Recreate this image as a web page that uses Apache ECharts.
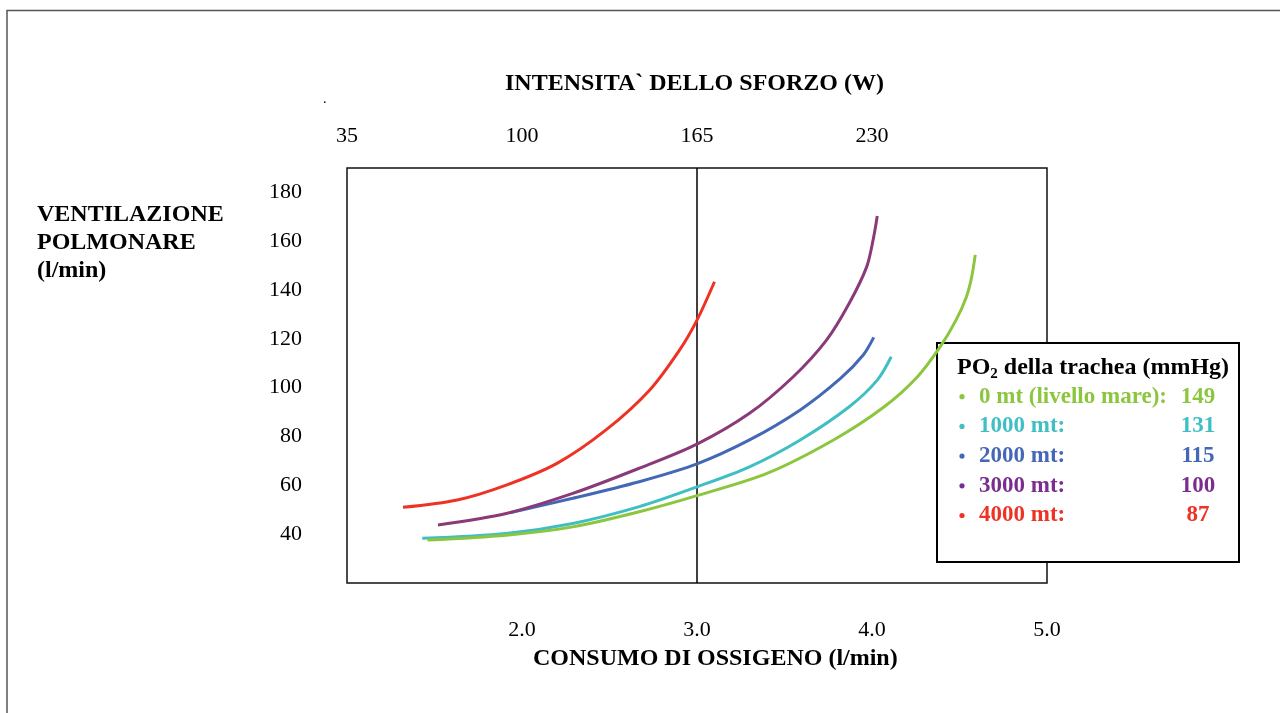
<!DOCTYPE html>
<html>
<head>
<meta charset="utf-8">
<style>
  html, body { margin: 0; padding: 0; background: #fff; }
  #chart { width: 1280px; height: 713px; }
</style>
<script src="https://cdn.jsdelivr.net/npm/echarts@6.0.0/dist/echarts.min.js"></script>
</head>
<body>
<div id="chart"></div>
<script>
// ---- data ----
const seriesNames  = ['0 mt (livello mare):', '1000 mt:', '2000 mt:', '3000 mt:', '4000 mt:'];
const seriesPO2    = ['149', '131', '115', '100', '87'];
const lineColors   = ['#8cc63f', '#3fbfc4', '#4467b6', '#8a3a78', '#ee3224'];
const legendColors = ['#8cc63f', '#3fbfc4', '#4467b6', '#7a2d8f', '#ee3224'];

// oxygen uptake (l/min) and ventilation (l/min) for each altitude
const x0m    = [1.46, 1.91, 2.29, 2.67, 3.00, 3.40, 3.78, 4.07, 4.26, 4.39, 4.48, 4.54, 4.57, 4.59];
const y0m    = [37.6, 39.6, 43.0, 49.2, 55.8, 64.9, 78.6, 92.2, 104.5, 116.8, 127.7, 137.3, 145.5, 154.4];
const x1000m = [1.43, 1.91, 2.29, 2.67, 3.00, 3.30, 3.59, 3.87, 4.03, 4.11];
const y1000m = [38.3, 40.3, 44.4, 51.3, 59.4, 67.6, 78.6, 92.2, 103.1, 112.7];
const x2000m = [1.93, 2.29, 2.67, 3.00, 3.30, 3.59, 3.82, 3.95, 4.01];
const y2000m = [48.8, 54.7, 61.5, 68.8, 78.6, 90.9, 103.8, 113.4, 120.6];
const x3000m = [1.52, 1.91, 2.29, 2.67, 3.00, 3.30, 3.55, 3.74, 3.87, 3.97, 4.01, 4.03];
const y3000m = [43.8, 48.5, 56.7, 67.0, 76.9, 89.5, 104.5, 119.5, 134.6, 149.6, 161.9, 170.3];
const x4000m = [1.32, 1.63, 1.91, 2.20, 2.48, 2.73, 2.90, 3.00, 3.10];
const y4000m = [51.0, 54.0, 60.1, 69.0, 82.7, 99.1, 115.4, 127.7, 143.4];

// axis ticks
const xTickValues = [2, 3, 4, 5];
const xTickLabels = ['2.0', '3.0', '4.0', '5.0'];
const wTickValues = [1, 2, 3, 4];
const wTickLabels = ['35', '100', '165', '230'];
const yTickValues = [40, 60, 80, 100, 120, 140, 160, 180];
const refLineX = 3.0;

// ---- texts ----
const titleTop = 'INTENSITA` DELLO SFORZO (W)';
const titleBottom = 'CONSUMO DI OSSIGENO (l/min)';
const titleLeft = 'VENTILAZIONE\nPOLMONARE\n(l/min)';
const legendTitle = '{a|PO}{s|2}{a| della trachea (mmHg)}';

const FONT = '"Liberation Serif", "Times New Roman", serif';

const xs = [x0m, x1000m, x2000m, x3000m, x4000m];
const ys = [y0m, y1000m, y2000m, y3000m, y4000m];

function pairs(a, b) { return a.map((v, i) => [v, b[i]]); }
function labelFor(values, labels) {
  return function (v) {
    const i = values.findIndex(t => Math.abs(t - v) < 1e-9);
    return i >= 0 ? labels[i] : '';
  };
}

// drawing order: cyan, green, blue, purple, red
const drawOrder = [1, 0, 2, 3, 4];
const series = drawOrder.map((k, j) => {
  const s = {
    name: seriesNames[k],
    type: 'line',
    smooth: 0.3,
    showSymbol: false,
    symbol: 'none',
    data: pairs(xs[k], ys[k]),
    color: lineColors[k],
    lineStyle: { color: lineColors[k], width: 3 },
    z: 3 + j
  };
  if (j === 0) {
    s.markLine = {
      silent: true,
      symbol: ['none', 'none'],
      label: { show: false },
      lineStyle: { color: '#000', type: 'solid', width: 1.5 },
      data: [{ xAxis: refLineX }],
      z: 1
    };
  }
  return s;
});

const chart = echarts.init(document.getElementById('chart'), null, { renderer: 'canvas' });

const txt = (size, weight) => ({ fontFamily: FONT, fontSize: size, fontWeight: weight, fill: '#000' });
const tickFont = { color: '#000', fontSize: 22, fontFamily: FONT, fontWeight: 'normal' };

// ---- legend box (drawn as graphic, bold coloured text) ----
const LEG = { x: 937, y: 343, w: 302, h: 219, dotX: 962, nameX: 979, valX: 1198, row0: 396.7, rowH: 29.7 };
const legendChildren = [
  {
    type: 'rect', silent: true,
    shape: { x: LEG.x, y: LEG.y, width: LEG.w, height: LEG.h },
    style: { fill: '#fff', stroke: '#000', lineWidth: 2 }
  },
  {
    type: 'text', silent: true, x: 957, y: 368,
    style: {
      text: legendTitle, fill: '#000', verticalAlign: 'middle',
      rich: {
        a: { fontFamily: FONT, fontSize: 24, fontWeight: 'bold', fill: '#000', lineHeight: 28 },
        s: { fontFamily: FONT, fontSize: 15, fontWeight: 'bold', fill: '#000', lineHeight: 15, verticalAlign: 'bottom' }
      }
    }
  }
];
seriesNames.forEach((n, i) => {
  const y = LEG.row0 + i * LEG.rowH;
  legendChildren.push(
    { type: 'circle', silent: true, shape: { cx: LEG.dotX, cy: y, r: 2.6 }, style: { fill: legendColors[i] } },
    { type: 'text', silent: true, x: LEG.nameX, y: y,
      style: Object.assign({ text: n, verticalAlign: 'middle', align: 'left' }, txt(23, 'bold'), { fill: legendColors[i] }) },
    { type: 'text', silent: true, x: LEG.valX, y: y,
      style: Object.assign({ text: seriesPO2[i], verticalAlign: 'middle', align: 'center' }, txt(23, 'bold'), { fill: legendColors[i] }) }
  );
});

chart.setOption({
  animation: false,
  backgroundColor: '#fff',
  textStyle: { fontFamily: FONT },
  grid: {
    left: 347, top: 168, width: 700, height: 415,
    show: true, borderColor: '#111', borderWidth: 1.5, backgroundColor: 'transparent'
  },
  xAxis: [
    {
      type: 'value', position: 'bottom', min: 1, max: 5, interval: 1,
      axisLine: { show: false }, axisTick: { show: false }, splitLine: { show: false },
      axisLabel: Object.assign({ margin: 36, formatter: labelFor(xTickValues, xTickLabels) }, tickFont)
    },
    {
      type: 'value', position: 'top', min: 1, max: 5, interval: 1,
      axisLine: { show: false }, axisTick: { show: false }, splitLine: { show: false },
      axisLabel: Object.assign({ margin: 21, formatter: labelFor(wTickValues, wTickLabels) }, tickFont)
    }
  ],
  yAxis: {
    type: 'value', min: 20, max: 190, interval: 20,
    axisLine: { show: false }, axisTick: { show: false }, splitLine: { show: false },
    axisLabel: Object.assign({ margin: 45, formatter: labelFor(yTickValues, yTickValues.map(String)) }, tickFont)
  },
  graphic: [
    {
      type: 'polyline', silent: true, z: 0,
      shape: { points: [[7, 713], [7, 10.5], [1280, 10.5]] },
      style: { stroke: '#555', lineWidth: 1.5, fill: null }
    },
    {
      type: 'text', silent: true, left: 505, top: 72,
      style: Object.assign({ text: titleTop }, txt(24, 'bold'))
    },
    {
      type: 'text', silent: true, left: 533, top: 647,
      style: Object.assign({ text: titleBottom }, txt(24, 'bold'))
    },
    {
      type: 'text', silent: true, left: 37, top: 201,
      style: Object.assign({ text: titleLeft, lineHeight: 28 }, txt(24, 'bold'))
    },
    {
      type: 'text', silent: true, left: 323, top: 92,
      style: Object.assign({ text: '.' }, txt(14, 'normal'))
    },
    {
      type: 'group', silent: true, z: 50,
      children: legendChildren
    }
  ],
  series: series
});
</script>
</body>
</html>
